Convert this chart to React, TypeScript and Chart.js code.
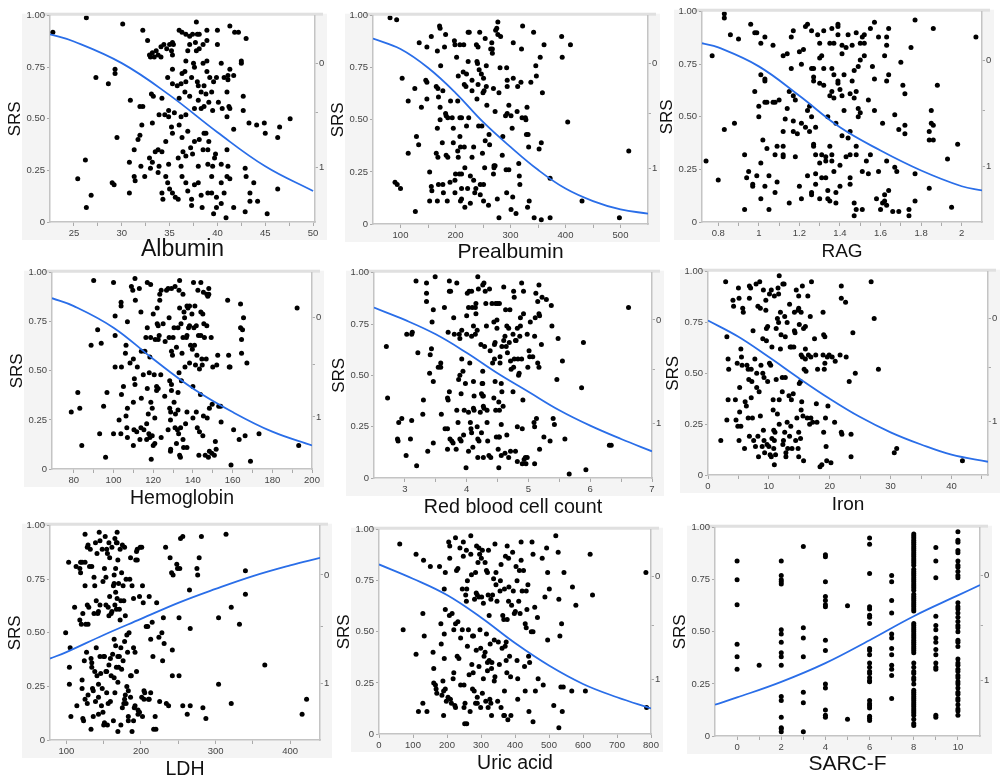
import { useEffect, useRef } from 'react';
import { Chart } from 'chart.js/auto';
import type { ChartConfiguration } from 'chart.js';

type Pt = [number, number];

// ---- data ----
const albuminPts: Pt[] = [
  [22.8, 0.92], [26.3, 0.99], [30.1, 0.96], [32.2, 0.93], [32.7, 0.88], [27.3, 0.7], [28.6, 0.67], [29.3, 0.74], [29.3, 0.72],
  [30.9, 0.59], [29.5, 0.41], [26.2, 0.3], [25.4, 0.21], [29.0, 0.19], [29.2, 0.18], [26.8, 0.13], [26.3, 0.07], [30.8, 0.29],
  [30.8, 0.14], [31.3, 0.22], [31.4, 0.2], [31.7, 0.4], [31.9, 0.42], [31.9, 0.56], [32.2, 0.56], [32.1, 0.47], [32.0, 0.27],
  [32.4, 0.22], [31.3, 0.35],
  [32.9, 0.81], [33.2, 0.82], [33.6, 0.83], [33.8, 0.81], [34.1, 0.85], [34.4, 0.86], [34.7, 0.84], [35.0, 0.86], [35.3, 0.87],
  [35.4, 0.86], [35.2, 0.83], [36.0, 0.93], [36.3, 0.92], [36.7, 0.91], [37.1, 0.9], [37.4, 0.91], [37.8, 0.97], [37.9, 0.91],
  [38.1, 0.91], [37.7, 0.87], [38.1, 0.84], [37.8, 0.83], [38.5, 0.86], [38.9, 0.88], [38.9, 0.93], [40.0, 0.93], [40.0, 0.86],
  [41.3, 0.95], [41.8, 0.92], [42.2, 0.92], [43.0, 0.89], [37.1, 0.86], [36.9, 0.83], [35.3, 0.81], [33.0, 0.8], [33.4, 0.8],
  [34.1, 0.8],
  [36.7, 0.78], [37.5, 0.77], [37.6, 0.75], [38.5, 0.77], [38.9, 0.78], [38.9, 0.73], [40.4, 0.77], [41.3, 0.74], [42.5, 0.78],
  [42.5, 0.77], [35.3, 0.74], [36.3, 0.72], [36.6, 0.73], [34.8, 0.7], [35.3, 0.67], [35.8, 0.66], [36.2, 0.67], [36.7, 0.68],
  [37.3, 0.7], [37.9, 0.68], [38.0, 0.66], [38.6, 0.66], [39.2, 0.7], [39.6, 0.68], [39.9, 0.7], [40.7, 0.7], [41.1, 0.71],
  [41.1, 0.69], [41.7, 0.71], [36.0, 0.6], [36.6, 0.63], [37.1, 0.61], [38.0, 0.59], [38.3, 0.63], [38.8, 0.62], [39.4, 0.63],
  [41.0, 0.63], [42.7, 0.61], [33.1, 0.62], [33.3, 0.61], [34.2, 0.6],
  [34.5, 0.52], [34.9, 0.54], [35.5, 0.53], [36.2, 0.51], [36.7, 0.52], [37.6, 0.55], [38.3, 0.55], [38.6, 0.56], [39.1, 0.58],
  [39.5, 0.54], [40.1, 0.58], [40.5, 0.55], [41.0, 0.51], [41.2, 0.56], [41.3, 0.55], [41.7, 0.45], [42.7, 0.54], [43.3, 0.48],
  [44.1, 0.47], [44.9, 0.48], [45.0, 0.43], [46.3, 0.41], [46.5, 0.46], [47.6, 0.5], [33.2, 0.48], [33.9, 0.52], [34.9, 0.51],
  [33.8, 0.35], [33.5, 0.34], [34.2, 0.34], [34.6, 0.39], [35.2, 0.46], [35.3, 0.43], [36.0, 0.47], [36.3, 0.41], [36.9, 0.44],
  [37.2, 0.36], [37.4, 0.33], [37.6, 0.39], [38.1, 0.4], [38.6, 0.43], [38.8, 0.43], [39.1, 0.39], [39.0, 0.35], [38.5, 0.35],
  [39.8, 0.33], [39.7, 0.31], [41.0, 0.35], [35.9, 0.31], [36.4, 0.34], [36.7, 0.32], [32.9, 0.31], [33.2, 0.29], [33.0, 0.26],
  [33.9, 0.27], [34.9, 0.28], [36.2, 0.27], [38.0, 0.27], [39.0, 0.28], [39.5, 0.27], [40.4, 0.28], [41.1, 0.27],
  [33.8, 0.24], [34.6, 0.22], [34.8, 0.19], [35.0, 0.16], [34.2, 0.14], [34.3, 0.11], [35.3, 0.14], [35.6, 0.12], [35.9, 0.11],
  [36.3, 0.22], [36.7, 0.19], [36.9, 0.15], [37.3, 0.11], [37.3, 0.08], [37.6, 0.18], [38.0, 0.19], [38.3, 0.13], [39.0, 0.14],
  [39.4, 0.14], [38.4, 0.07], [39.4, 0.22], [39.9, 0.12], [39.6, 0.04], [39.9, 0.07], [40.4, 0.19], [40.7, 0.14], [41.0, 0.22],
  [41.3, 0.21], [41.7, 0.07], [42.9, 0.26], [43.0, 0.22], [42.9, 0.05], [43.4, 0.14], [43.4, 0.1], [43.8, 0.19], [44.2, 0.1],
  [45.2, 0.04], [46.3, 0.16], [40.9, 0.02], [40.4, 0.09],
];
const albuminFit: Pt[] = [[22.5, 0.91], [25, 0.875], [30, 0.77], [35, 0.615], [40, 0.435], [45, 0.27], [50, 0.15]];
const albuminTicks = [25, 30, 35, 40, 45, 50];
const albuminMinor = [27.5, 32.5, 37.5, 42.5, 47.5];

const prealbuminPts: Pt[] = [
  [81, 0.99], [93, 0.98], [103, 0.7], [114, 0.59], [114, 0.34], [90, 0.2], [94, 0.19], [100, 0.17], [127, 0.06], [126, 0.65],
  [129, 0.42], [133, 0.38], [134, 0.87], [138, 0.56], [146, 0.69], [148, 0.68], [148, 0.85], [148, 0.6], [153, 0.25], [153, 0.11],
  [156, 0.9], [156, 0.18], [157, 0.16], [165, 0.66], [167, 0.83], [167, 0.46], [168, 0.65], [169, 0.61], [165, 0.34], [168, 0.32],
  [167, 0.11], [169, 0.19], [171, 0.95], [172, 0.94], [173, 0.76], [172, 0.56], [172, 0.5], [176, 0.39], [177, 0.64], [178, 0.15],
  [177, 0.19], [180, 0.85], [182, 0.53], [183, 0.52], [182, 0.91], [186, 0.51], [183, 0.33], [186, 0.32], [185, 0.11], [190, 0.2],
  [191, 0.59], [194, 0.51], [196, 0.46], [196, 0.39], [198, 0.88], [199, 0.86], [199, 0.21], [199, 0.15], [202, 0.8], [204, 0.59],
  [204, 0.35], [205, 0.32], [200, 0.24], [205, 0.71], [208, 0.86], [208, 0.51], [211, 0.51], [208, 0.42], [209, 0.37], [211, 0.24],
  [207, 0.24], [209, 0.11], [211, 0.12], [211, 0.17], [214, 0.73], [215, 0.86], [217, 0.08], [216, 0.37], [217, 0.27], [216, 0.67],
  [219, 0.66], [220, 0.72], [220, 0.47], [222, 0.17], [223, 0.92], [225, 0.92], [223, 0.78], [224, 0.51], [227, 0.23], [227, 0.1],
  [230, 0.69], [230, 0.64], [230, 0.32], [233, 0.37], [233, 0.21], [235, 0.15], [237, 0.17], [238, 0.86], [239, 0.78], [240, 0.77],
  [239, 0.6], [241, 0.85], [241, 0.67], [242, 0.47], [243, 0.74], [244, 0.92], [245, 0.19], [245, 0.14], [247, 0.72], [251, 0.7],
  [248, 0.47], [249, 0.34], [250, 0.63], [252, 0.64], [251, 0.19], [251, 0.11], [253, 0.27], [254, 0.89], [254, 0.4], [256, 0.76],
  [256, 0.66], [257, 0.57], [260, 0.09], [261, 0.43], [262, 0.38], [264, 0.84], [267, 0.84], [266, 0.87], [267, 0.82], [269, 0.65],
  [269, 0.24], [270, 0.27], [270, 0.28], [272, 0.28], [272, 0.54], [273, 0.93], [275, 0.94], [276, 0.12], [277, 0.97], [279, 0.63],
  [279, 0.03], [281, 0.75], [277, 0.91], [282, 0.9], [285, 0.33], [286, 0.42], [291, 0.52], [294, 0.53], [293, 0.75], [292, 0.26],
  [293, 0.15], [294, 0.66], [294, 0.69], [297, 0.57], [297, 0.26], [301, 0.52], [303, 0.46], [304, 0.13], [301, 0.07], [305, 0.7],
  [305, 0.87], [310, 0.05], [312, 0.54], [313, 0.66], [315, 0.29], [316, 0.23], [317, 0.19], [319, 0.68], [320, 0.84], [321, 0.51],
  [327, 0.51], [322, 0.95], [328, 0.5], [329, 0.43], [330, 0.56], [332, 0.43], [331, 0.08], [334, 0.11], [333, 0.37], [337, 0.68],
  [342, 0.92], [343, 0.03], [347, 0.71], [346, 0.76], [352, 0.36], [354, 0.8], [356, 0.39], [358, 0.63], [361, 0.86], [356, 0.02],
  [372, 0.22], [372, 0.03], [393, 0.9], [394, 0.8], [404, 0.49], [409, 0.86], [430, 0.11], [498, 0.03], [515, 0.35],
];
const prealbuminFit: Pt[] = [
  [50, 0.89], [100, 0.84], [150, 0.75], [200, 0.63], [250, 0.49], [300, 0.37], [350, 0.26], [400, 0.17], [450, 0.11], [500, 0.07], [550, 0.05],
];
const prealbuminTicks = [100, 200, 300, 400, 500];
const prealbuminMinor = [150, 250, 350, 450];

const ragPts: Pt[] = [
  [0.74, 0.29], [0.77, 0.79], [0.8, 0.2], [0.83, 0.99], [0.83, 0.97], [0.83, 0.44], [0.86, 0.89], [0.88, 0.47], [0.9, 0.87],
  [0.93, 0.06], [0.93, 0.32], [0.94, 0.21], [0.95, 0.24], [0.96, 0.94], [0.97, 0.18], [0.97, 0.17], [0.98, 0.9], [0.99, 0.9],
  [0.98, 0.62], [0.99, 0.22], [1.0, 0.55], [1.0, 0.5], [1.01, 0.85], [1.01, 0.7], [1.01, 0.28], [1.01, 0.11], [1.02, 0.39],
  [1.03, 0.88], [1.03, 0.68], [1.03, 0.67], [1.03, 0.57], [1.04, 0.57], [1.03, 0.17], [1.04, 0.35], [1.05, 0.22], [1.05, 0.06],
  [1.07, 0.57], [1.08, 0.57], [1.07, 0.84], [1.08, 0.32], [1.08, 0.14], [1.09, 0.19], [1.09, 0.36], [1.1, 0.58], [1.12, 0.32],
  [1.12, 0.31], [1.12, 0.79], [1.13, 0.49], [1.12, 0.43], [1.12, 0.36], [1.14, 0.8], [1.14, 0.54], [1.15, 0.62], [1.15, 0.09],
  [1.16, 0.88], [1.16, 0.73], [1.17, 0.91], [1.17, 0.6], [1.18, 0.58], [1.17, 0.48], [1.17, 0.43], [1.18, 0.31], [1.19, 0.42],
  [1.2, 0.81], [1.2, 0.17], [1.21, 0.75], [1.21, 0.11], [1.21, 0.47], [1.22, 0.82], [1.23, 0.45], [1.23, 0.93], [1.24, 0.94],
  [1.24, 0.53], [1.24, 0.22], [1.25, 0.55], [1.25, 0.43], [1.26, 0.5], [1.26, 0.14], [1.26, 0.13], [1.26, 0.73], [1.27, 0.73],
  [1.27, 0.69], [1.27, 0.67], [1.26, 0.91], [1.27, 0.37], [1.27, 0.36], [1.28, 0.45], [1.28, 0.18], [1.28, 0.32], [1.28, 0.23],
  [1.29, 0.89], [1.3, 0.11], [1.3, 0.28], [1.3, 0.78], [1.3, 0.85], [1.3, 0.66], [1.31, 0.21], [1.31, 0.32], [1.31, 0.79],
  [1.32, 0.91], [1.32, 0.73], [1.32, 0.65], [1.33, 0.29], [1.33, 0.21], [1.33, 0.31], [1.34, 0.5], [1.34, 0.11], [1.34, 0.15],
  [1.35, 0.85], [1.35, 0.6], [1.35, 0.1], [1.35, 0.36], [1.36, 0.29], [1.36, 0.73], [1.36, 0.62], [1.36, 0.32], [1.36, 0.92],
  [1.37, 0.85], [1.37, 0.24], [1.37, 0.7], [1.37, 0.59], [1.38, 0.47], [1.38, 0.14], [1.38, 0.09], [1.39, 0.67], [1.39, 0.66],
  [1.39, 0.93], [1.39, 0.94], [1.39, 0.89], [1.4, 0.27], [1.4, 0.63], [1.4, 0.17], [1.41, 0.41], [1.41, 0.84], [1.41, 0.6],
  [1.41, 0.8], [1.42, 0.7], [1.42, 0.53], [1.43, 0.83], [1.43, 0.31], [1.44, 0.89], [1.44, 0.4], [1.45, 0.43], [1.45, 0.21],
  [1.45, 0.32], [1.45, 0.18], [1.45, 0.61], [1.46, 0.67], [1.46, 0.84], [1.47, 0.72], [1.47, 0.59], [1.47, 0.09], [1.47, 0.03],
  [1.48, 0.9], [1.48, 0.36], [1.48, 0.32], [1.48, 0.06], [1.48, 0.62], [1.49, 0.74], [1.49, 0.54], [1.49, 0.5], [1.5, 0.52],
  [1.5, 0.85], [1.5, 0.77], [1.51, 0.88], [1.51, 0.24], [1.51, 0.06], [1.52, 0.89], [1.52, 0.85], [1.52, 0.79], [1.53, 0.29],
  [1.54, 0.58], [1.54, 0.23], [1.55, 0.32], [1.55, 0.92], [1.56, 0.74], [1.57, 0.53], [1.57, 0.68], [1.57, 0.95], [1.58, 0.11],
  [1.59, 0.24], [1.59, 0.88], [1.6, 0.06], [1.61, 0.09], [1.62, 0.1], [1.61, 0.47], [1.62, 0.79], [1.62, 0.13], [1.63, 0.08],
  [1.63, 0.88], [1.63, 0.67], [1.63, 0.84], [1.63, 0.29], [1.64, 0.92], [1.64, 0.15], [1.64, 0.7], [1.66, 0.05], [1.67, 0.51],
  [1.67, 0.26], [1.68, 0.24], [1.69, 0.05], [1.69, 0.44], [1.7, 0.76], [1.71, 0.65], [1.72, 0.61], [1.72, 0.46], [1.72, 0.42],
  [1.74, 0.06], [1.74, 0.03], [1.75, 0.83], [1.77, 0.96], [1.77, 0.1], [1.77, 0.23], [1.84, 0.39], [1.84, 0.43], [1.85, 0.47],
  [1.85, 0.53], [1.84, 0.16], [1.86, 0.46], [1.86, 0.39], [1.86, 0.92], [1.88, 0.65], [1.93, 0.3], [1.95, 0.07], [1.98, 0.37],
  [2.07, 0.88],
];
const ragFit: Pt[] = [[0.72, 0.85], [0.8, 0.83], [1.0, 0.74], [1.2, 0.6], [1.4, 0.45], [1.6, 0.34], [1.8, 0.245], [2.0, 0.17], [2.1, 0.15]];
const ragTicks = [0.8, 1, 1.2, 1.4, 1.6, 1.8, 2];
const ragMinor = [0.9, 1.1, 1.3, 1.5, 1.7, 1.9];

const hemoglobinPts: Pt[] = [
  [78.7, 0.29], [82, 0.39], [83, 0.31], [84, 0.12], [88.7, 0.63], [90, 0.96], [92, 0.71], [93.8, 0.64], [93, 0.18], [95, 0.32],
  [96, 0.06], [96.7, 0.39], [100, 0.95], [100.8, 0.78], [100.8, 0.68], [100, 0.18], [100.8, 0.52], [102.8, 0.25], [103.7, 0.18],
  [103.8, 0.85], [103.8, 0.83], [104, 0.52], [104, 0.38], [105, 0.42], [106, 0.59], [106.3, 0.63], [106.3, 0.27], [106.7, 0.21],
  [107, 0.16], [107, 0.31], [107, 0.75], [108.3, 0.54], [109, 0.93], [109.7, 0.91], [110, 0.56], [110, 0.34], [110, 0.12],
  [110.3, 0.2], [110.5, 0.46], [110.8, 0.43], [110.8, 0.97], [111, 0.86], [111.7, 0.19], [112, 0.52], [113, 0.92], [113.3, 0.15],
  [113.8, 0.8], [113.8, 0.21], [114, 0.36], [114, 0.6], [115, 0.48], [115.3, 0.2], [115.8, 0.6], [116.3, 0.67], [116.7, 0.23],
  [116.7, 0.15], [117, 0.95], [117, 0.72], [117, 0.41], [117.5, 0.28], [117.8, 0.18], [118.3, 0.16], [118, 0.49], [118.3, 0.57],
  [118.7, 0.94], [118.7, 0.67], [118.8, 0.34], [119.5, 0.31], [119, 0.05], [119.5, 0.17], [120, 0.12], [120.8, 0.13], [120, 0.79],
  [120.5, 0.48], [120.8, 0.26], [121, 0.66], [121.7, 0.4], [122.5, 0.41], [121.7, 0.42], [122, 0.82], [122, 0.74], [122.5, 0.73],
  [122.5, 0.66], [123, 0.68], [123.3, 0.86], [123.3, 0.89], [123.8, 0.48], [124, 0.91], [124, 0.16], [125, 0.74], [125.8, 0.37],
  [126, 0.65], [126.7, 0.91], [127.5, 0.92], [127.5, 0.2], [128, 0.77], [128, 0.67], [128.3, 0.45], [128.7, 0.09], [128.8, 0.1],
  [128.3, 0.31], [128.8, 0.29], [128.7, 0.25], [129.2, 0.43], [129.2, 0.4], [129.2, 0.92], [129.2, 0.6], [129.7, 0.58], [130, 0.67],
  [130.5, 0.34], [130.5, 0.72], [131, 0.93], [131, 0.21], [131.2, 0.28], [131.7, 0.62], [131.7, 0.13], [132.2, 0.2], [132.8, 0.18],
  [132.5, 0.39], [132.5, 0.3], [132.5, 0.72], [133, 0.91], [133, 0.49], [133.3, 0.96], [133.3, 0.82], [133.3, 0.07], [133.7, 0.06],
  [133.8, 0.21], [134, 0.74], [134.2, 0.45], [134.5, 0.59], [135, 0.89], [135, 0.67], [135, 0.15], [135.3, 0.11], [135.5, 0.8],
  [135.8, 0.77], [136, 0.52], [136.3, 0.23], [136.7, 0.67], [137, 0.68], [137, 0.29], [137, 0.11], [137, 0.83], [137.5, 0.82],
  [137.8, 0.72], [138.3, 0.73], [138.3, 0.54], [138.3, 0.83], [138.8, 0.63], [139.5, 0.79], [139.7, 0.61], [140, 0.42], [140, 0.26],
  [140.3, 0.95], [140.5, 0.72], [140.8, 0.63], [141, 0.83], [141.3, 0.53], [141.7, 0.73], [141.7, 0.29], [142, 0.58], [142.2, 0.21],
  [142.5, 0.91], [142.8, 0.68], [143, 0.07], [143.3, 0.51], [143.3, 0.19], [143.8, 0.38], [144, 0.8], [145, 0.79], [144, 0.68],
  [144, 0.95], [144.5, 0.56], [144.7, 0.53], [145, 0.17], [145.3, 0.27], [145.3, 0.9], [145.5, 0.74], [145.8, 0.67], [146.2, 0.07],
  [146.7, 0.56], [147, 0.89], [147.5, 0.88], [148, 0.89], [147, 0.73], [147.2, 0.26], [147.8, 0.06], [148, 0.92], [148.3, 0.09],
  [148.3, 0.31], [149.2, 0.67], [149.5, 0.08], [149.7, 0.33], [150, 0.52], [150.8, 0.07], [151.3, 0.14], [151.7, 0.1], [152, 0.53],
  [152.5, 0.58], [153, 0.32], [154, 0.32], [154.2, 0.24], [157.5, 0.86], [158, 0.58], [158.3, 0.52], [158.7, 0.52], [159.2, 0.02],
  [160.5, 0.2], [163.3, 0.15], [164, 0.84], [164, 0.72], [165, 0.71], [164.5, 0.66], [164.5, 0.59], [165.5, 0.77], [166.3, 0.17],
  [167.2, 0.54], [169, 0.04], [173.3, 0.18], [192.5, 0.82], [193.3, 0.12],
];
const hemoglobinFit: Pt[] = [[69, 0.87], [80, 0.83], [100, 0.72], [120, 0.56], [140, 0.41], [160, 0.29], [180, 0.19], [200, 0.12]];
const hemoglobinTicks = [80, 100, 120, 140, 160, 180, 200];
const hemoglobinMinor = [90, 110, 130, 150, 170, 190];

const rbcPts: Pt[] = [
  [2.7, 0.64], [2.72, 0.39], [2.89, 0.18], [2.88, 0.19], [2.9, 0.27], [2.95, 0.29], [3.02, 0.11], [3.03, 0.7], [3.09, 0.19],
  [3.11, 0.7], [3.12, 0.71], [3.11, 0.28], [3.18, 0.96], [3.19, 0.06], [3.21, 0.61], [3.29, 0.31], [3.3, 0.38], [3.35, 0.95],
  [3.35, 0.9], [3.35, 0.86], [3.37, 0.13], [3.4, 0.51], [3.41, 0.6], [3.43, 0.63], [3.44, 0.76], [3.46, 0.82], [3.46, 0.47],
  [3.46, 0.17], [3.49, 0.98], [3.54, 0.54], [3.58, 0.54], [3.58, 0.56], [3.59, 0.31], [3.64, 0.83], [3.65, 0.24], [3.69, 0.24],
  [3.69, 0.14], [3.7, 0.38], [3.69, 0.39], [3.7, 0.71], [3.72, 0.96], [3.72, 0.91], [3.74, 0.91], [3.72, 0.42], [3.73, 0.19],
  [3.76, 0.18], [3.78, 0.17], [3.79, 0.78], [3.8, 0.7], [3.84, 0.95], [3.84, 0.33], [3.83, 0.14], [3.86, 0.27], [3.87, 0.48],
  [3.88, 0.7], [3.89, 0.68], [3.89, 0.5], [3.89, 0.19], [3.91, 0.41], [3.91, 0.18], [3.92, 0.58], [3.92, 0.72], [3.94, 0.52],
  [3.95, 0.21], [3.96, 0.33], [3.98, 0.46], [3.99, 0.05], [4.0, 0.7], [4.0, 0.79], [4.01, 0.9], [4.04, 0.91], [4.03, 0.83],
  [4.03, 0.32], [4.03, 0.13], [4.05, 0.56], [4.06, 0.27], [4.07, 0.24], [4.08, 0.91], [4.08, 0.22], [4.08, 0.69], [4.09, 0.83],
  [4.1, 0.15], [4.11, 0.34], [4.12, 0.33], [4.11, 0.47], [4.11, 0.74], [4.12, 0.4], [4.14, 0.83], [4.14, 0.7], [4.15, 0.85],
  [4.15, 0.8], [4.17, 0.25], [4.17, 0.72], [4.18, 0.98], [4.18, 0.19], [4.18, 0.1], [4.19, 0.92], [4.2, 0.18], [4.22, 0.32],
  [4.24, 0.41], [4.26, 0.4], [4.23, 0.65], [4.24, 0.22], [4.25, 0.46], [4.26, 0.46], [4.26, 0.94], [4.28, 0.95], [4.27, 0.4],
  [4.26, 0.52], [4.27, 0.35], [4.28, 0.34], [4.27, 0.1], [4.29, 0.64], [4.3, 0.91], [4.31, 0.85], [4.32, 0.74], [4.33, 0.27],
  [4.33, 0.33], [4.34, 0.18], [4.36, 0.11], [4.37, 0.92], [4.38, 0.62], [4.39, 0.1], [4.41, 0.85], [4.42, 0.56], [4.44, 0.39],
  [4.44, 0.76], [4.45, 0.65], [4.46, 0.66], [4.45, 0.58], [4.46, 0.47], [4.47, 0.85], [4.47, 0.33], [4.48, 0.2], [4.49, 0.77],
  [4.49, 0.73], [4.5, 0.85], [4.51, 0.14], [4.52, 0.37], [4.53, 0.33], [4.52, 0.2], [4.52, 0.05], [4.53, 0.2], [4.53, 0.85],
  [4.54, 0.59], [4.54, 0.56], [4.56, 0.46], [4.56, 0.26], [4.56, 0.11], [4.57, 0.64], [4.57, 0.42], [4.59, 0.35], [4.6, 0.67],
  [4.6, 0.93], [4.62, 0.69], [4.62, 0.12], [4.63, 0.82], [4.64, 0.64], [4.65, 0.74], [4.68, 0.73], [4.65, 0.21], [4.66, 0.61],
  [4.68, 0.1], [4.69, 0.66], [4.7, 0.82], [4.71, 0.57], [4.71, 0.13], [4.72, 0.53], [4.75, 0.7], [4.75, 0.42], [4.76, 0.91],
  [4.76, 0.54], [4.77, 0.88], [4.77, 0.58], [4.79, 0.13], [4.79, 0.67], [4.8, 0.67], [4.82, 0.25], [4.82, 0.73], [4.82, 0.08],
  [4.83, 0.58], [4.84, 0.5], [4.85, 0.51], [4.86, 0.69], [4.87, 0.78], [4.87, 0.74], [4.89, 0.95], [4.89, 0.58], [4.9, 0.24],
  [4.9, 0.07], [4.91, 0.38], [4.92, 0.8], [4.92, 0.91], [4.93, 0.09], [4.95, 0.1], [4.98, 0.1], [4.96, 0.07], [4.98, 0.7],
  [4.99, 0.54], [5.01, 0.62], [5.02, 0.59], [5.03, 0.76], [5.07, 0.59], [5.09, 0.27], [5.1, 0.25], [5.1, 0.07], [5.1, 0.69],
  [5.11, 0.78], [5.12, 0.9], [5.13, 0.29], [5.15, 0.86], [5.15, 0.56], [5.17, 0.94], [5.17, 0.8], [5.18, 0.79], [5.17, 0.54],
  [5.18, 0.14], [5.21, 0.65], [5.22, 0.88], [5.25, 0.2], [5.29, 0.87], [5.35, 0.18], [5.37, 0.84], [5.38, 0.74], [5.4, 0.29],
  [5.42, 0.26], [5.46, 0.48], [5.48, 0.68], [5.55, 0.57], [5.59, 0.19], [5.66, 0.02], [5.86, 0.44], [5.89, 0.66], [5.93, 0.04],
  [6.31, 0.16], [6.34, 0.16], [6.62, 0.83],
];
const rbcFit: Pt[] = [[2.5, 0.83], [3, 0.77], [3.5, 0.7], [4, 0.61], [4.5, 0.51], [5, 0.42], [5.5, 0.33], [6, 0.255], [6.5, 0.19], [7, 0.13]];
const rbcTicks = [3, 4, 5, 6, 7];
const rbcMinor = [3.5, 4.5, 5.5, 6.5];

const ironPts: Pt[] = [
  [2.1, 0.17], [2.9, 0.95], [3.1, 0.27], [3.1, 0.68], [3.3, 0.57], [3.3, 0.37], [3.4, 0.52], [4.1, 0.86], [4.2, 0.83], [4.5, 0.37],
  [4.6, 0.27], [4.8, 0.55], [4.9, 0.24], [5.0, 0.92], [5.1, 0.87], [5.1, 0.17], [5.2, 0.31], [5.2, 0.43], [5.4, 0.24], [5.4, 0.62],
  [5.5, 0.58], [5.6, 0.54], [5.7, 0.82], [5.8, 0.8], [6.0, 0.13], [6.1, 0.36], [6.3, 0.34], [6.4, 0.54], [6.6, 0.52], [6.6, 0.28],
  [6.7, 0.47], [6.8, 0.93], [6.8, 0.87], [6.8, 0.19], [7.0, 0.92], [7.1, 0.52], [7.1, 0.38], [7.2, 0.46], [7.3, 0.28], [7.4, 0.71],
  [7.5, 0.17], [7.7, 0.57], [7.8, 0.14], [7.9, 0.94], [8.0, 0.5], [8.0, 0.43], [8.2, 0.83], [8.2, 0.19], [8.3, 0.09], [8.4, 0.41],
  [8.5, 0.95], [8.6, 0.29], [8.6, 0.82], [8.7, 0.54], [8.9, 0.14], [9.0, 0.5], [9.2, 0.48], [9.0, 0.67], [9.1, 0.91], [9.1, 0.22],
  [9.2, 0.17], [9.3, 0.11], [9.5, 0.81], [9.5, 0.86], [9.6, 0.72], [9.8, 0.73], [9.6, 0.66], [9.7, 0.15], [9.8, 0.46], [10.0, 0.14],
  [10.1, 0.89], [10.1, 0.55], [10.3, 0.54], [10.2, 0.1], [10.4, 0.09], [10.4, 0.91], [10.5, 0.63], [10.5, 0.18], [10.7, 0.37],
  [10.7, 0.32], [10.8, 0.22], [10.8, 0.13], [10.9, 0.05], [10.9, 0.88], [10.9, 0.17], [11.0, 0.21], [11.1, 0.1], [11.2, 0.47],
  [11.2, 0.72], [11.4, 0.77], [11.4, 0.3], [11.5, 0.92], [11.6, 0.75], [11.6, 0.89], [11.7, 0.98], [11.7, 0.37], [11.7, 0.25],
  [11.9, 0.8], [11.9, 0.62], [12.0, 0.69], [12.2, 0.48], [12.2, 0.41], [12.3, 0.94], [12.5, 0.94], [12.3, 0.15], [12.4, 0.17],
  [12.6, 0.78], [12.6, 0.21], [12.7, 0.48], [12.7, 0.68], [12.8, 0.11], [12.8, 0.09], [13.0, 0.75], [13.0, 0.26], [13.1, 0.13],
  [13.3, 0.39], [13.4, 0.19], [13.4, 0.84], [13.5, 0.63], [13.7, 0.63], [13.6, 0.24], [13.7, 0.37], [13.8, 0.13], [14.0, 0.4],
  [14.1, 0.63], [14.2, 0.71], [14.2, 0.8], [14.3, 0.7], [14.4, 0.17], [14.5, 0.91], [14.6, 0.28], [14.8, 0.81], [14.9, 0.82],
  [14.8, 0.13], [14.9, 0.88], [14.9, 0.21], [14.9, 0.09], [15.0, 0.74], [15.0, 0.45], [15.2, 0.46], [15.2, 0.18], [15.3, 0.32],
  [15.3, 0.59], [15.3, 0.8], [15.4, 0.36], [15.5, 0.93], [15.5, 0.58], [15.6, 0.29], [15.7, 0.07], [15.7, 0.72], [15.8, 0.52],
  [16.0, 0.73], [16.0, 0.62], [16.0, 0.57], [16.1, 0.51], [16.3, 0.28], [16.4, 0.88], [16.5, 0.59], [16.7, 0.25], [16.8, 0.78],
  [16.9, 0.28], [16.9, 0.58], [17.0, 0.95], [17.2, 0.26], [17.5, 0.67], [17.7, 0.59], [17.8, 0.35], [17.9, 0.26], [18.0, 0.52],
  [18.4, 0.04], [18.7, 0.05], [18.9, 0.8], [18.9, 0.59], [19.0, 0.69], [19.2, 0.68], [19.0, 0.21], [19.1, 0.52], [19.2, 0.55],
  [19.3, 0.28], [19.4, 0.14], [19.5, 0.07], [19.6, 0.58], [19.7, 0.34], [19.9, 0.59], [20.2, 0.06], [20.4, 0.58], [20.8, 0.26],
  [20.9, 0.56], [21.7, 0.59], [21.9, 0.87], [21.9, 0.93], [21.9, 0.21], [22.0, 0.2], [22.6, 0.85], [22.7, 0.58], [23.2, 0.46],
  [23.5, 0.2], [23.5, 0.09], [23.8, 0.7], [24.2, 0.5], [26.8, 0.95], [27.3, 0.77], [28.0, 0.52], [30.6, 0.11], [31.0, 0.13],
  [41.8, 0.07],
];
const ironFit: Pt[] = [[0, 0.76], [5, 0.68], [10, 0.58], [15, 0.475], [20, 0.375], [25, 0.285], [30, 0.21], [35, 0.15], [40, 0.1], [46, 0.065]];
const ironTicks = [0, 10, 20, 30, 40];
const ironMinor = [5, 15, 25, 35, 45];

const ldhPts: Pt[] = [
  [99, 0.5], [103, 0.83], [105, 0.43], [104, 0.34], [104, 0.26], [106, 0.11], [111, 0.62], [113, 0.81], [114, 0.16], [118, 0.8],
  [118, 0.56], [119, 0.78], [119, 0.83], [121, 0.83], [120, 0.54], [121, 0.24], [121, 0.28], [122, 0.59], [122, 0.1], [123, 0.09],
  [124, 0.37], [125, 0.83], [125, 0.96], [125, 0.72], [125, 0.19], [126, 0.54], [127, 0.41], [128, 0.63], [128, 0.9], [129, 0.91],
  [128, 0.17], [129, 0.21], [129, 0.54], [130, 0.62], [131, 0.81], [132, 0.89], [133, 0.38], [134, 0.36], [133, 0.05], [134, 0.81],
  [134, 0.34], [135, 0.24], [136, 0.23], [136, 0.11], [137, 0.59], [137, 0.76], [138, 0.72], [138, 0.32], [139, 0.92], [139, 0.18],
  [140, 0.65], [140, 0.43], [141, 0.87], [141, 0.3], [142, 0.59], [143, 0.6], [143, 0.12], [143, 0.2], [143, 0.26], [144, 0.97],
  [145, 0.63], [145, 0.39], [145, 0.93], [146, 0.31], [147, 0.16], [148, 0.24], [148, 0.89], [149, 0.13], [149, 0.74], [150, 0.39],
  [151, 0.39], [150, 0.07], [151, 0.08], [151, 0.8], [152, 0.95], [153, 0.76], [153, 0.63], [153, 0.32], [154, 0.32], [154, 0.22],
  [154, 0.89], [155, 0.87], [155, 0.07], [156, 0.62], [156, 0.17], [157, 0.92], [157, 0.35], [157, 0.58], [158, 0.67], [158, 0.85],
  [159, 0.38], [159, 0.18], [160, 0.59], [161, 0.6], [160, 0.3], [161, 0.9], [162, 0.4], [163, 0.72], [164, 0.73], [163, 0.09],
  [164, 0.77], [164, 0.47], [164, 0.29], [165, 0.94], [165, 0.22], [165, 0.63], [166, 0.69], [166, 0.8], [166, 0.44], [167, 0.92],
  [168, 0.92], [167, 0.61], [167, 0.34], [168, 0.97], [168, 0.66], [169, 0.27], [169, 0.04], [169, 0.39], [171, 0.39], [169, 0.84],
  [170, 0.73], [170, 0.34], [171, 0.61], [172, 0.89], [172, 0.56], [173, 0.65], [173, 0.07], [173, 0.43], [174, 0.33], [174, 0.78],
  [175, 0.91], [175, 0.15], [176, 0.72], [176, 0.37], [177, 0.65], [177, 0.17], [178, 0.46], [178, 0.9], [178, 0.19], [180, 0.17],
  [179, 0.58], [179, 0.21], [180, 0.75], [181, 0.25], [181, 0.49], [182, 0.41], [183, 0.09], [183, 0.23], [183, 0.11], [184, 0.5],
  [185, 0.75], [186, 0.85], [186, 0.3], [186, 0.2], [187, 0.3], [188, 0.04], [188, 0.72], [190, 0.43], [190, 0.66], [190, 0.09],
  [191, 0.15], [192, 0.41], [192, 0.16], [193, 0.84], [194, 0.88], [194, 0.32], [195, 0.84], [195, 0.89], [196, 0.12], [196, 0.14],
  [198, 0.67], [198, 0.13], [199, 0.9], [201, 0.9], [201, 0.2], [202, 0.11], [202, 0.72], [203, 0.64], [204, 0.23], [205, 0.22],
  [204, 0.19], [207, 0.53], [209, 0.53], [210, 0.19], [211, 0.67], [211, 0.19], [213, 0.47], [213, 0.22], [215, 0.55], [216, 0.39],
  [217, 0.05], [220, 0.05], [219, 0.11], [221, 0.64], [224, 0.48], [225, 0.18], [228, 0.5], [229, 0.37], [230, 0.57], [231, 0.45],
  [233, 0.9], [234, 0.17], [237, 0.16], [239, 0.85], [241, 0.78], [243, 0.77], [242, 0.42], [242, 0.3], [248, 0.82], [249, 0.8],
  [251, 0.3], [251, 0.57], [252, 0.8], [253, 0.94], [256, 0.95], [256, 0.16], [262, 0.12], [265, 0.7], [266, 0.52], [266, 0.16],
  [275, 0.8], [276, 0.77], [278, 0.85], [281, 0.95], [283, 0.15], [287, 0.1], [304, 0.57], [304, 0.26], [314, 0.96], [321, 0.62],
  [321, 0.17], [332, 0.54], [340, 0.79], [340, 0.68], [366, 0.35], [416, 0.12], [422, 0.19],
];
const ldhFit: Pt[] = [[78, 0.38], [100, 0.41], [150, 0.49], [200, 0.565], [250, 0.64], [300, 0.705], [350, 0.765], [400, 0.815], [440, 0.85]];
const ldhTicks = [100, 200, 300, 400];
const ldhMinor = [150, 250, 350];

const uricPts: Pt[] = [
  [61, 0.93], [71, 0.51], [109, 0.88], [109, 0.39], [116, 0.11], [129, 0.59], [129, 0.15], [131, 0.85], [133, 0.48], [141, 0.11],
  [151, 0.82], [159, 0.4], [161, 0.25], [161, 0.32], [166, 0.24], [168, 0.22], [170, 0.2], [178, 0.82], [182, 0.54], [183, 0.44],
  [185, 0.19], [188, 0.26], [190, 0.21], [190, 0.09], [192, 0.49], [192, 0.37], [192, 0.71], [195, 0.79], [195, 0.61], [195, 0.22],
  [198, 0.16], [203, 0.18], [205, 0.94], [207, 0.58], [208, 0.86], [208, 0.92], [210, 0.17], [213, 0.15], [215, 0.59], [218, 0.27],
  [220, 0.3], [220, 0.51], [223, 0.14], [225, 0.54], [225, 0.96], [225, 0.13], [228, 0.8], [230, 0.38], [235, 0.37], [232, 0.81],
  [232, 0.55], [238, 0.91], [240, 0.47], [240, 0.24], [245, 0.71], [245, 0.51], [248, 0.94], [248, 0.87], [250, 0.24], [250, 0.13],
  [252, 0.05], [258, 0.05], [253, 0.15], [255, 0.68], [257, 0.9], [257, 0.65], [258, 0.71], [260, 0.75], [260, 0.43], [263, 0.51],
  [265, 0.29], [268, 0.11], [270, 0.88], [270, 0.97], [272, 0.78], [273, 0.34], [275, 0.22], [275, 0.48], [278, 0.48], [277, 0.3],
  [280, 0.21], [281, 0.66], [284, 0.79], [284, 0.15], [289, 0.15], [286, 0.69], [286, 0.41], [287, 0.92], [294, 0.91], [289, 0.18],
  [289, 0.68], [294, 0.67], [291, 0.84], [294, 0.33], [296, 0.88], [297, 0.51], [299, 0.42], [299, 0.13], [301, 0.86], [302, 0.67],
  [304, 0.9], [304, 0.2], [307, 0.27], [307, 0.64], [309, 0.38], [312, 0.4], [312, 0.84], [314, 0.16], [316, 0.8], [319, 0.79],
  [316, 0.49], [319, 0.35], [324, 0.36], [319, 0.31], [321, 0.68], [321, 0.13], [322, 0.9], [324, 0.58], [326, 0.17], [329, 0.15],
  [327, 0.44], [329, 0.66], [331, 0.09], [331, 0.32], [332, 0.35], [334, 0.68], [337, 0.76], [339, 0.26], [341, 0.28], [339, 0.46],
  [341, 0.93], [344, 0.73], [344, 0.79], [347, 0.65], [349, 0.16], [351, 0.45], [354, 0.34], [356, 0.7], [357, 0.75], [359, 0.83],
  [359, 0.13], [362, 0.42], [364, 0.58], [367, 0.56], [367, 0.09], [369, 0.09], [369, 0.21], [369, 0.71], [371, 0.43], [372, 0.87],
  [374, 0.36], [374, 0.45], [376, 0.3], [377, 0.56], [377, 0.92], [379, 0.07], [381, 0.86], [381, 0.65], [382, 0.72], [384, 0.38],
  [387, 0.28], [388, 0.09], [390, 0.63], [393, 0.89], [395, 0.7], [398, 0.59], [401, 0.6], [403, 0.82], [406, 0.75], [406, 0.36],
  [408, 0.27], [408, 0.17], [411, 0.65], [413, 0.8], [415, 0.59], [418, 0.94], [418, 0.85], [421, 0.7], [425, 0.8], [428, 0.33],
  [430, 0.54], [433, 0.52], [430, 0.21], [433, 0.7], [435, 0.61], [438, 0.73], [440, 0.38], [441, 0.11], [443, 0.35], [448, 0.5],
  [453, 0.5], [450, 0.94], [453, 0.88], [453, 0.06], [458, 0.62], [460, 0.21], [466, 0.57], [468, 0.27], [480, 0.86], [483, 0.24],
  [488, 0.67], [493, 0.91], [496, 0.79], [496, 0.46], [501, 0.71], [514, 0.14], [520, 0.97], [527, 0.89], [529, 0.66], [529, 0.03],
  [532, 0.48], [535, 0.23], [537, 0.54], [539, 0.11], [542, 0.23], [544, 0.79], [567, 0.21], [569, 0.72], [579, 0.63], [607, 0.21],
  [621, 0.88], [628, 0.68], [785, 0.79], [787, 0.13],
];
const uricFit: Pt[] = [[0, 0.83], [100, 0.76], [200, 0.68], [300, 0.57], [400, 0.445], [500, 0.335], [600, 0.245], [700, 0.18], [800, 0.125]];
const uricTicks = [0, 100, 200, 300, 400, 500, 600, 700, 800];
const uricMinor: number[] = [];

// SARC-F is an integer score: each column is one score with the SRS values stacked on it
const sarcColumns: [number, number[]][] = [
  [0, [0.84, 0.75, 0.63, 0.44, 0.38, 0.32]],
  [1, [0.34]],
  [2, [0.84, 0.77, 0.75, 0.74, 0.73, 0.51, 0.49, 0.45, 0.4, 0.38, 0.34, 0.19, 0.17, 0.09, 0.04, 0.035, 0.02]],
  [3, [0.91, 0.52, 0.47, 0.38, 0.21, 0.16, 0.02]],
  [4, [0.87, 0.86, 0.74, 0.67, 0.65, 0.63, 0.62, 0.46, 0.41, 0.25, 0.23, 0.125, 0.1, 0.09]],
  [5, [0.625, 0.08]],
  [6, [0.95, 0.92, 0.78, 0.62, 0.61, 0.58, 0.57, 0.54, 0.42, 0.41, 0.39, 0.35, 0.33, 0.31, 0.3, 0.28, 0.265, 0.26, 0.17, 0.155,
    0.145, 0.135, 0.095, 0.085, 0.075]],
  [7, [0.77, 0.74, 0.65, 0.59, 0.49, 0.47, 0.42, 0.39, 0.34, 0.32, 0.29, 0.18]],
  [8, [0.97, 0.96, 0.95, 0.94, 0.93, 0.92, 0.91, 0.9, 0.89, 0.88, 0.87, 0.86, 0.85, 0.84, 0.83, 0.82, 0.8, 0.79, 0.78, 0.77,
    0.76, 0.75, 0.74, 0.73, 0.72, 0.71, 0.7, 0.68, 0.67, 0.66, 0.65, 0.64, 0.63, 0.62, 0.61, 0.6, 0.54, 0.53, 0.52, 0.51, 0.5,
    0.49, 0.48, 0.47, 0.46, 0.45, 0.44, 0.43, 0.42, 0.41, 0.4, 0.35, 0.33, 0.31, 0.3, 0.28, 0.27, 0.25, 0.22, 0.21, 0.2, 0.19,
    0.18, 0.17, 0.16, 0.15, 0.14, 0.13, 0.12, 0.11, 0.1, 0.08, 0.06, 0.05]],
  [9, [0.905, 0.84, 0.76, 0.575, 0.53, 0.51, 0.47, 0.45, 0.415, 0.39, 0.35, 0.33, 0.32, 0.1, 0.09]],
  [10, [0.98, 0.94, 0.93, 0.89, 0.88, 0.84, 0.82, 0.81, 0.79, 0.77, 0.76, 0.64, 0.62, 0.61, 0.59, 0.57, 0.55, 0.53, 0.52, 0.5,
    0.46, 0.45, 0.43, 0.37, 0.35, 0.34, 0.32, 0.31, 0.29, 0.28, 0.26, 0.25, 0.23, 0.21, 0.2, 0.18, 0.17, 0.15, 0.13, 0.12, 0.1]],
];
const sarcPts: Pt[] = sarcColumns.flatMap(([score, ys]) => ys.map((y) => [score, y] as Pt));
const sarcFit: Pt[] = [[-1, 0.15], [0, 0.185], [2, 0.26], [4, 0.35], [6, 0.46], [8, 0.575], [10, 0.675], [11, 0.725]];
const sarcTicks = [0, 2, 4, 6, 8, 10];
const sarcMinor = [1, 3, 5, 7, 9];

// y axis (probability) and the response levels shown on the right
const yTicks = [0, 0.25, 0.5, 0.75, 1];
const levelPos = [0.265, 0.53, 0.77];
const levelLabels = ['1', '', '0'];

// ---- layout ----
const BLUE = '#2a6ee8';
const AXIS = '#c4c4c4';
const Y_W = 50;
const R_W = 12;
const X_H = 42;
const PAD_T = 6;
const FONT = "'Liberation Sans', Arial, sans-serif";

interface PanelCfg {
  title: string;
  titleSize: number;
  pts: Pt[];
  fit: Pt[];
  min: number;
  max: number;
  ticks: number[];
  minor: number[];
  box: { l: number; t: number; r: number; b: number };
}

const panels: PanelCfg[] = [
  { title: 'Albumin', titleSize: 23, pts: albuminPts, fit: albuminFit, min: 22.5, max: 50.2, ticks: albuminTicks, minor: albuminMinor, box: { l: 50, t: 14, r: 315, b: 222 } },
  { title: 'Prealbumin', titleSize: 21, pts: prealbuminPts, fit: prealbuminFit, min: 50, max: 550, ticks: prealbuminTicks, minor: prealbuminMinor, box: { l: 373, t: 14, r: 648, b: 224 } },
  { title: 'RAG', titleSize: 19, pts: ragPts, fit: ragFit, min: 0.72, max: 2.1, ticks: ragTicks, minor: ragMinor, box: { l: 702, t: 10, r: 982, b: 222 } },
  { title: 'Hemoglobin', titleSize: 19.5, pts: hemoglobinPts, fit: hemoglobinFit, min: 69, max: 200, ticks: hemoglobinTicks, minor: hemoglobinMinor, box: { l: 52, t: 271, r: 312, b: 469 } },
  { title: 'Red blood cell count', titleSize: 19.7, pts: rbcPts, fit: rbcFit, min: 2.5, max: 7, ticks: rbcTicks, minor: rbcMinor, box: { l: 374, t: 271, r: 652, b: 478 } },
  { title: 'Iron', titleSize: 19, pts: ironPts, fit: ironFit, min: 0, max: 46, ticks: ironTicks, minor: ironMinor, box: { l: 708, t: 270, r: 988, b: 475 } },
  { title: 'LDH', titleSize: 19.5, pts: ldhPts, fit: ldhFit, min: 78, max: 440, ticks: ldhTicks, minor: ldhMinor, box: { l: 50, t: 524, r: 320, b: 740 } },
  { title: 'Uric acid', titleSize: 19.5, pts: uricPts, fit: uricFit, min: 0, max: 800, ticks: uricTicks, minor: uricMinor, box: { l: 379, t: 528, r: 651, b: 734 } },
  { title: 'SARC-F', titleSize: 21, pts: sarcPts, fit: sarcFit, min: -1, max: 11, ticks: sarcTicks, minor: sarcMinor, box: { l: 715, t: 526, r: 980, b: 736 } },
];

// JMP-style frame: faint grey backdrop behind the axes, white plot, grey band on top
const frame = {
  id: 'frame',
  beforeDraw(chart: Chart) {
    const { ctx, chartArea: a } = chart;
    ctx.save();
    ctx.fillStyle = '#f4f4f4';
    ctx.fillRect(a.left - 28, a.top - 2, a.right - a.left + 28 + R_W, a.bottom - a.top + 20);
    ctx.fillStyle = '#fff';
    ctx.fillRect(a.left, a.top, a.right - a.left, a.bottom - a.top);
    ctx.fillStyle = '#e0e0e0';
    ctx.fillRect(a.left - 8, a.top - 3, a.right - a.left + 16, 3);
    ctx.restore();
  },
};

const tickFont = { family: FONT, size: 9.5 };

function Panel({ cfg }: { cfg: PanelCfg }) {
  const ref = useRef<HTMLCanvasElement>(null);
  const { l, t, r, b } = cfg.box;
  const width = r - l + Y_W + R_W;
  const height = b - t + PAD_T + X_H;

  useEffect(() => {
    if (!ref.current) return;
    const allX = [...cfg.ticks, ...cfg.minor].sort((p, q) => p - q);
    const config: ChartConfiguration = {
      type: 'scatter',
      data: {
        datasets: [
          {
            type: 'line',
            data: cfg.fit.map(([x, y]) => ({ x, y })),
            borderColor: BLUE,
            borderWidth: 1.8,
            pointRadius: 0,
            tension: 0.4,
            fill: false,
            order: 0,
          },
          {
            data: cfg.pts.map(([x, y]) => ({ x, y })),
            backgroundColor: '#000',
            borderWidth: 0,
            pointRadius: 2.5,
            order: 1,
          },
        ],
      },
      options: {
        animation: false,
        responsive: false,
        maintainAspectRatio: false,
        layout: { autoPadding: false, padding: { top: PAD_T, left: 0, right: 0, bottom: 0 } },
        plugins: { legend: { display: false }, tooltip: { enabled: false } },
        scales: {
          x: {
            type: 'linear',
            min: cfg.min,
            max: cfg.max,
            afterBuildTicks: (s) => { s.ticks = allX.map((v) => ({ value: v })); },
            afterFit: (s) => { s.height = X_H; },
            ticks: {
              autoSkip: false,
              maxRotation: 0,
              padding: 2,
              color: '#444',
              font: tickFont,
              callback: (v) => (cfg.ticks.includes(Number(v)) ? String(v) : ''),
            },
            grid: { drawOnChartArea: false, tickLength: 4, color: '#aaa' },
            border: { color: AXIS, width: 1.5 },
            title: {
              display: true,
              text: cfg.title,
              color: '#111',
              font: { family: FONT, size: cfg.titleSize },
              padding: { top: 0, bottom: 1 },
            },
          },
          y: {
            min: 0,
            max: 1,
            afterBuildTicks: (s) => { s.ticks = yTicks.map((v) => ({ value: v })); },
            afterFit: (s) => { s.width = Y_W; },
            ticks: {
              padding: 2,
              color: '#444',
              font: tickFont,
              callback: (v) => (Number(v) === 0 ? '0' : Number(v).toFixed(2)),
            },
            grid: { drawOnChartArea: false, tickLength: 3, color: '#aaa' },
            border: { color: AXIS, width: 1.5 },
            title: {
              display: true,
              text: 'SRS',
              color: '#111',
              font: { family: FONT, size: 17 },
              padding: { top: 5, bottom: 0 },
            },
          },
          y2: {
            position: 'right',
            min: 0,
            max: 1,
            afterBuildTicks: (s) => { s.ticks = levelPos.map((v) => ({ value: v })); },
            afterFit: (s) => { s.width = R_W; },
            ticks: {
              padding: 1,
              color: '#444',
              font: tickFont,
              callback: (_v, i) => levelLabels[i],
            },
            grid: { drawOnChartArea: false, tickLength: 3, color: '#aaa' },
            border: { color: AXIS, width: 1.5 },
          },
        },
      },
      plugins: [frame],
    };
    const chart = new Chart(ref.current, config);
    return () => chart.destroy();
  }, [cfg]);

  return (
    <div style={{ position: 'absolute', left: l - Y_W, top: t - PAD_T, width, height }}>
      <canvas ref={ref} width={width} height={height} style={{ width, height, display: 'block' }} />
    </div>
  );
}

export default function App() {
  useEffect(() => {
    document.body.style.margin = '0';
  }, []);
  return (
    <div style={{ position: 'relative', width: 1000, height: 782, overflow: 'hidden', background: '#fff' }}>
      {panels.map((p) => (
        <Panel key={p.title} cfg={p} />
      ))}
    </div>
  );
}
